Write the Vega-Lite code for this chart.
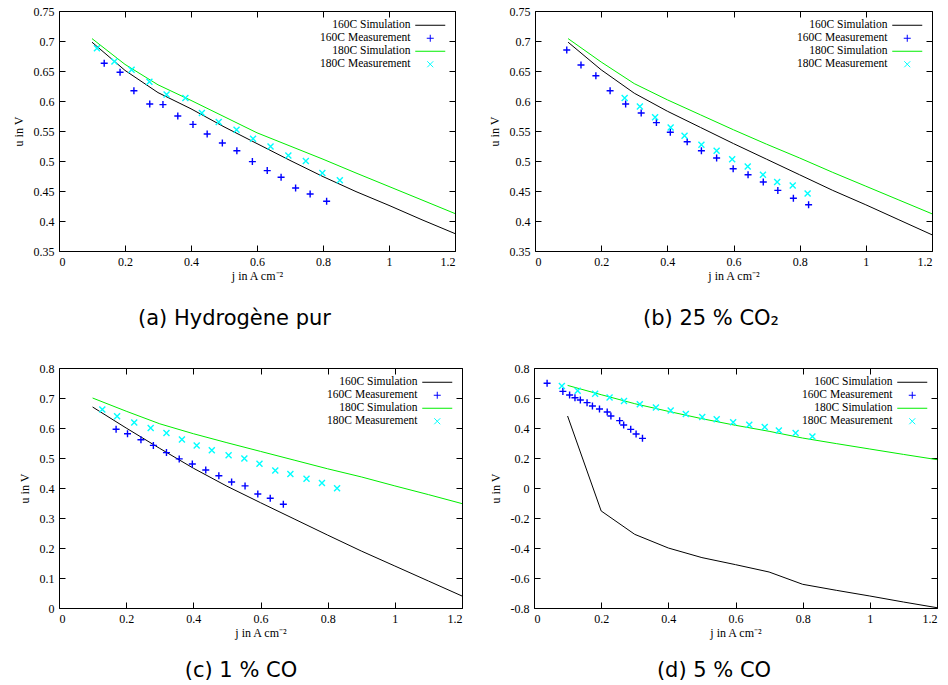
{
"$schema": "https://vega.github.io/schema/vega-lite/v6.json",
"background": "white",
"padding": {"left": 12, "top": 5, "right": 2, "bottom": 0},
"spacing": 33,
"resolve": {"scale": {"color": "independent", "shape": "independent"}, "legend": {"color": "independent", "shape": "independent"}},
"config": {
  "font": "Liberation Serif",
  "view": {"stroke": null},
  "style": {"guide-label": {"font": "Liberation Serif", "fontSize": 12, "fill": "#000"}, "guide-title": {"font": "Liberation Serif", "fontSize": 12, "fontWeight": "normal", "fill": "#000"}},
  "axis": {"labelFont": "Liberation Serif", "labelFontSize": 12, "labelColor": "#000", "titleFont": "Liberation Serif", "titleFontSize": 12, "titleFontWeight": "normal", "titleColor": "#000", "domainColor": "#000", "tickColor": "#000", "tickSize": -6, "labelPadding": 11, "grid": false},
  "axisY": {"titlePadding": 8},
  "axisX": {"titlePadding": 3},
  "title": {"orient": "bottom", "font": "DejaVu Sans", "fontSize": 21, "fontWeight": "normal", "color": "#000", "anchor": "middle", "frame": "bounds", "offset": 22},
  "legend": {"title": null, "orient": "none", "legendY": 8.5, "labelAlign": "right", "labelOffset": -25.5, "labelFont": "Liberation Serif", "labelFontSize": 11.5, "labelColor": "#000", "symbolSize": 25, "rowPadding": 0, "padding": 0, "symbolStrokeWidth": 1}
},
"datasets": {
  "a": [
    {"s":"160C Simulation","j":0.1,"u":0.698},{"s":"160C Simulation","j":0.2,"u":0.651},{"s":"160C Simulation","j":0.3,"u":0.614},{"s":"160C Simulation","j":0.4,"u":0.587},{"s":"160C Simulation","j":0.5,"u":0.557},{"s":"160C Simulation","j":0.6,"u":0.529},{"s":"160C Simulation","j":0.7,"u":0.501},{"s":"160C Simulation","j":0.8,"u":0.474},{"s":"160C Simulation","j":0.9,"u":0.449},{"s":"160C Simulation","j":1.0,"u":0.426},{"s":"160C Simulation","j":1.1,"u":0.402},{"s":"160C Simulation","j":1.2,"u":0.379},
    {"s":"180C Simulation","j":0.1,"u":0.704},{"s":"180C Simulation","j":0.2,"u":0.661},{"s":"180C Simulation","j":0.3,"u":0.627},{"s":"180C Simulation","j":0.4,"u":0.601},{"s":"180C Simulation","j":0.5,"u":0.574},{"s":"180C Simulation","j":0.6,"u":0.547},{"s":"180C Simulation","j":0.7,"u":0.525},{"s":"180C Simulation","j":0.8,"u":0.503},{"s":"180C Simulation","j":0.9,"u":0.48},{"s":"180C Simulation","j":1.0,"u":0.4575},{"s":"180C Simulation","j":1.1,"u":0.435},{"s":"180C Simulation","j":1.2,"u":0.4124},
    {"s":"160C Measurement","j":0.137,"u":0.663},{"s":"160C Measurement","j":0.185,"u":0.648},{"s":"160C Measurement","j":0.227,"u":0.617},{"s":"160C Measurement","j":0.275,"u":0.595},{"s":"160C Measurement","j":0.315,"u":0.594},{"s":"160C Measurement","j":0.36,"u":0.575},{"s":"160C Measurement","j":0.406,"u":0.561},{"s":"160C Measurement","j":0.449,"u":0.545},{"s":"160C Measurement","j":0.495,"u":0.53},{"s":"160C Measurement","j":0.539,"u":0.517},{"s":"160C Measurement","j":0.586,"u":0.499},{"s":"160C Measurement","j":0.631,"u":0.484},{"s":"160C Measurement","j":0.673,"u":0.473},{"s":"160C Measurement","j":0.717,"u":0.455},{"s":"160C Measurement","j":0.761,"u":0.445},{"s":"160C Measurement","j":0.811,"u":0.433},
    {"s":"180C Measurement","j":0.115,"u":0.688},{"s":"180C Measurement","j":0.168,"u":0.666},{"s":"180C Measurement","j":0.22,"u":0.652},{"s":"180C Measurement","j":0.274,"u":0.632},{"s":"180C Measurement","j":0.326,"u":0.611},{"s":"180C Measurement","j":0.383,"u":0.605},{"s":"180C Measurement","j":0.433,"u":0.58},{"s":"180C Measurement","j":0.484,"u":0.565},{"s":"180C Measurement","j":0.538,"u":0.552},{"s":"180C Measurement","j":0.588,"u":0.537},{"s":"180C Measurement","j":0.641,"u":0.524},{"s":"180C Measurement","j":0.695,"u":0.509},{"s":"180C Measurement","j":0.748,"u":0.5},{"s":"180C Measurement","j":0.798,"u":0.48},{"s":"180C Measurement","j":0.851,"u":0.468}
  ],
  "b": [
    {"s":"160C Simulation","j":0.1,"u":0.698},{"s":"160C Simulation","j":0.2,"u":0.652},{"s":"160C Simulation","j":0.3,"u":0.613},{"s":"160C Simulation","j":0.4,"u":0.583},{"s":"160C Simulation","j":0.5,"u":0.556},{"s":"160C Simulation","j":0.6,"u":0.529},{"s":"160C Simulation","j":0.7,"u":0.503},{"s":"160C Simulation","j":0.8,"u":0.477},{"s":"160C Simulation","j":0.9,"u":0.451},{"s":"160C Simulation","j":1.0,"u":0.427},{"s":"160C Simulation","j":1.1,"u":0.402},{"s":"160C Simulation","j":1.2,"u":0.377},
    {"s":"180C Simulation","j":0.1,"u":0.704},{"s":"180C Simulation","j":0.2,"u":0.665},{"s":"180C Simulation","j":0.3,"u":0.629},{"s":"180C Simulation","j":0.4,"u":0.602},{"s":"180C Simulation","j":0.5,"u":0.577},{"s":"180C Simulation","j":0.6,"u":0.552},{"s":"180C Simulation","j":0.7,"u":0.528},{"s":"180C Simulation","j":0.8,"u":0.505},{"s":"180C Simulation","j":0.9,"u":0.481},{"s":"180C Simulation","j":1.0,"u":0.458},{"s":"180C Simulation","j":1.1,"u":0.435},{"s":"180C Simulation","j":1.2,"u":0.412},
    {"s":"160C Measurement","j":0.096,"u":0.685},{"s":"160C Measurement","j":0.139,"u":0.66},{"s":"160C Measurement","j":0.184,"u":0.642},{"s":"160C Measurement","j":0.227,"u":0.617},{"s":"160C Measurement","j":0.274,"u":0.595},{"s":"160C Measurement","j":0.321,"u":0.58},{"s":"160C Measurement","j":0.367,"u":0.564},{"s":"160C Measurement","j":0.409,"u":0.548},{"s":"160C Measurement","j":0.46,"u":0.532},{"s":"160C Measurement","j":0.503,"u":0.517},{"s":"160C Measurement","j":0.549,"u":0.505},{"s":"160C Measurement","j":0.599,"u":0.487},{"s":"160C Measurement","j":0.644,"u":0.477},{"s":"160C Measurement","j":0.69,"u":0.465},{"s":"160C Measurement","j":0.734,"u":0.451},{"s":"160C Measurement","j":0.781,"u":0.438},{"s":"160C Measurement","j":0.827,"u":0.427},
    {"s":"180C Measurement","j":0.271,"u":0.605},{"s":"180C Measurement","j":0.317,"u":0.591},{"s":"180C Measurement","j":0.363,"u":0.573},{"s":"180C Measurement","j":0.41,"u":0.556},{"s":"180C Measurement","j":0.452,"u":0.542},{"s":"180C Measurement","j":0.503,"u":0.527},{"s":"180C Measurement","j":0.549,"u":0.517},{"s":"180C Measurement","j":0.596,"u":0.503},{"s":"180C Measurement","j":0.643,"u":0.491},{"s":"180C Measurement","j":0.689,"u":0.477},{"s":"180C Measurement","j":0.732,"u":0.465},{"s":"180C Measurement","j":0.779,"u":0.459},{"s":"180C Measurement","j":0.824,"u":0.446}
  ],
  "c": [
    {"s":"160C Simulation","j":0.1,"u":0.67},{"s":"160C Simulation","j":0.2,"u":0.6},{"s":"160C Simulation","j":0.3,"u":0.532},{"s":"160C Simulation","j":0.4,"u":0.466},{"s":"160C Simulation","j":0.5,"u":0.406},{"s":"160C Simulation","j":0.6,"u":0.351},{"s":"160C Simulation","j":0.7,"u":0.297},{"s":"160C Simulation","j":0.8,"u":0.243},{"s":"160C Simulation","j":0.9,"u":0.19},{"s":"160C Simulation","j":1.0,"u":0.14},{"s":"160C Simulation","j":1.1,"u":0.09},{"s":"160C Simulation","j":1.2,"u":0.04},
    {"s":"180C Simulation","j":0.1,"u":0.7},{"s":"180C Simulation","j":0.2,"u":0.656},{"s":"180C Simulation","j":0.3,"u":0.614},{"s":"180C Simulation","j":0.4,"u":0.581},{"s":"180C Simulation","j":0.5,"u":0.551},{"s":"180C Simulation","j":0.6,"u":0.522},{"s":"180C Simulation","j":0.7,"u":0.493},{"s":"180C Simulation","j":0.8,"u":0.464},{"s":"180C Simulation","j":0.9,"u":0.437},{"s":"180C Simulation","j":1.0,"u":0.407},{"s":"180C Simulation","j":1.1,"u":0.378},{"s":"180C Simulation","j":1.2,"u":0.348},
    {"s":"160C Measurement","j":0.17,"u":0.596},{"s":"160C Measurement","j":0.204,"u":0.581},{"s":"160C Measurement","j":0.244,"u":0.561},{"s":"160C Measurement","j":0.281,"u":0.542},{"s":"160C Measurement","j":0.32,"u":0.518},{"s":"160C Measurement","j":0.358,"u":0.497},{"s":"160C Measurement","j":0.397,"u":0.48},{"s":"160C Measurement","j":0.437,"u":0.46},{"s":"160C Measurement","j":0.476,"u":0.441},{"s":"160C Measurement","j":0.514,"u":0.42},{"s":"160C Measurement","j":0.554,"u":0.407},{"s":"160C Measurement","j":0.592,"u":0.38},{"s":"160C Measurement","j":0.629,"u":0.366},{"s":"160C Measurement","j":0.668,"u":0.346},
    {"s":"180C Measurement","j":0.129,"u":0.662},{"s":"180C Measurement","j":0.173,"u":0.639},{"s":"180C Measurement","j":0.224,"u":0.618},{"s":"180C Measurement","j":0.273,"u":0.6},{"s":"180C Measurement","j":0.32,"u":0.583},{"s":"180C Measurement","j":0.366,"u":0.562},{"s":"180C Measurement","j":0.41,"u":0.542},{"s":"180C Measurement","j":0.455,"u":0.526},{"s":"180C Measurement","j":0.505,"u":0.509},{"s":"180C Measurement","j":0.552,"u":0.498},{"s":"180C Measurement","j":0.597,"u":0.481},{"s":"180C Measurement","j":0.644,"u":0.458},{"s":"180C Measurement","j":0.689,"u":0.447},{"s":"180C Measurement","j":0.737,"u":0.431},{"s":"180C Measurement","j":0.783,"u":0.417},{"s":"180C Measurement","j":0.828,"u":0.399}
  ],
  "d": [
    {"s":"160C Simulation","j":0.1,"u":0.48},{"s":"160C Simulation","j":0.2,"u":-0.153},{"s":"160C Simulation","j":0.3,"u":-0.309},{"s":"160C Simulation","j":0.4,"u":-0.4},{"s":"160C Simulation","j":0.5,"u":-0.464},{"s":"160C Simulation","j":0.6,"u":-0.511},{"s":"160C Simulation","j":0.7,"u":-0.56},{"s":"160C Simulation","j":0.8,"u":-0.642},{"s":"160C Simulation","j":0.9,"u":-0.682},{"s":"160C Simulation","j":1.0,"u":-0.72},{"s":"160C Simulation","j":1.1,"u":-0.76},{"s":"160C Simulation","j":1.2,"u":-0.798},
    {"s":"180C Simulation","j":0.1,"u":0.684},{"s":"180C Simulation","j":0.2,"u":0.622},{"s":"180C Simulation","j":0.3,"u":0.562},{"s":"180C Simulation","j":0.4,"u":0.511},{"s":"180C Simulation","j":0.5,"u":0.462},{"s":"180C Simulation","j":0.6,"u":0.418},{"s":"180C Simulation","j":0.7,"u":0.378},{"s":"180C Simulation","j":0.8,"u":0.333},{"s":"180C Simulation","j":0.9,"u":0.296},{"s":"180C Simulation","j":1.0,"u":0.26},{"s":"180C Simulation","j":1.1,"u":0.224},{"s":"180C Simulation","j":1.2,"u":0.189},
    {"s":"160C Measurement","j":0.039,"u":0.698},{"s":"160C Measurement","j":0.086,"u":0.644},{"s":"160C Measurement","j":0.106,"u":0.62},{"s":"160C Measurement","j":0.122,"u":0.602},{"s":"160C Measurement","j":0.138,"u":0.587},{"s":"160C Measurement","j":0.158,"u":0.569},{"s":"160C Measurement","j":0.174,"u":0.547},{"s":"160C Measurement","j":0.195,"u":0.527},{"s":"160C Measurement","j":0.218,"u":0.507},{"s":"160C Measurement","j":0.229,"u":0.48},{"s":"160C Measurement","j":0.255,"u":0.449},{"s":"160C Measurement","j":0.267,"u":0.42},{"s":"160C Measurement","j":0.288,"u":0.391},{"s":"160C Measurement","j":0.304,"u":0.36},{"s":"160C Measurement","j":0.323,"u":0.331},
    {"s":"180C Measurement","j":0.083,"u":0.68},{"s":"180C Measurement","j":0.13,"u":0.649},{"s":"180C Measurement","j":0.182,"u":0.629},{"s":"180C Measurement","j":0.225,"u":0.604},{"s":"180C Measurement","j":0.268,"u":0.58},{"s":"180C Measurement","j":0.315,"u":0.558},{"s":"180C Measurement","j":0.363,"u":0.536},{"s":"180C Measurement","j":0.407,"u":0.516},{"s":"180C Measurement","j":0.452,"u":0.493},{"s":"180C Measurement","j":0.501,"u":0.473},{"s":"180C Measurement","j":0.544,"u":0.458},{"s":"180C Measurement","j":0.593,"u":0.438},{"s":"180C Measurement","j":0.641,"u":0.422},{"s":"180C Measurement","j":0.687,"u":0.407},{"s":"180C Measurement","j":0.729,"u":0.384},{"s":"180C Measurement","j":0.779,"u":0.367},{"s":"180C Measurement","j":0.829,"u":0.344}
  ]
},
"vconcat": [
 {"spacing": 31, "resolve": {"scale": {"color": "independent", "shape": "independent"}, "legend": {"color": "independent", "shape": "independent"}}, "hconcat": [
  {"width": 396, "height": 240, "title": {"text": "(a) Hydrogène pur", "offset": 27}, "data": {"name": "a"},
   "resolve": {"axis": {"x": "independent", "y": "independent"}},
   "layer": [
    {"transform": [{"filter": "indexof(datum.s, 'Simulation') >= 0"}],
     "mark": {"type": "line", "strokeWidth": 1},
     "encoding": {
      "x": {"field": "j", "type": "quantitative", "scale": {"domain": [0, 1.2], "nice": false}, "axis": {"orient": "bottom", "values": [0, 0.2, 0.4, 0.6, 0.8, 1, 1.2], "format": "~g", "title": "j in A cm⁻²", "labelFont": "Liberation Serif", "titleFont": "Liberation Serif"}},
      "y": {"field": "u", "type": "quantitative", "scale": {"domain": [0.35, 0.75], "nice": false, "zero": false}, "axis": {"orient": "left", "values": [0.35, 0.4, 0.45, 0.5, 0.55, 0.6, 0.65, 0.7, 0.75], "format": "~g", "title": "u in V", "labelFont": "Liberation Serif", "titleFont": "Liberation Serif"}},
      "color": {"field": "s", "type": "nominal", "scale": {"domain": ["160C Simulation", "160C Measurement", "180C Simulation", "180C Measurement"], "range": ["#000000", "#0000ff", "#00ee00", "#00ffff"]}, "legend": {"legendX": 365.5}}
     }},
    {"transform": [{"filter": "indexof(datum.s, 'Measurement') >= 0"}],
     "mark": {"type": "point", "filled": false, "size": 25, "strokeWidth": 1.4, "opacity": 1},
     "encoding": {
      "x": {"field": "j", "type": "quantitative", "axis": {"orient": "top", "values": [0, 0.2, 0.4, 0.6, 0.8, 1, 1.2], "labels": false, "title": null}},
      "y": {"field": "u", "type": "quantitative", "axis": {"orient": "right", "values": [0.35, 0.4, 0.45, 0.5, 0.55, 0.6, 0.65, 0.7, 0.75], "labels": false, "title": null}},
      "color": {"field": "s", "type": "nominal", "legend": {"legendX": 365.5}},
      "shape": {"field": "s", "type": "nominal", "scale": {"domain": ["160C Simulation", "160C Measurement", "180C Simulation", "180C Measurement"], "range": ["M-6,0H6", "M-1.4,0H1.4M0,-1.4V1.4", "M-6,0H6", "M-1.2,-1.2L1.2,1.2M-1.2,1.2L1.2,-1.2"]}, "legend": {"legendX": 365.5}}
     }}
   ]},
  {"width": 397, "height": 240, "title": {"text": "(b) 25 % CO₂", "offset": 27}, "data": {"name": "b"},
   "resolve": {"axis": {"x": "independent", "y": "independent"}},
   "layer": [
    {"transform": [{"filter": "indexof(datum.s, 'Simulation') >= 0"}],
     "mark": {"type": "line", "strokeWidth": 1},
     "encoding": {
      "x": {"field": "j", "type": "quantitative", "scale": {"domain": [0, 1.2], "nice": false}, "axis": {"orient": "bottom", "values": [0, 0.2, 0.4, 0.6, 0.8, 1, 1.2], "format": "~g", "title": "j in A cm⁻²", "labelFont": "Liberation Serif", "titleFont": "Liberation Serif"}},
      "y": {"field": "u", "type": "quantitative", "scale": {"domain": [0.35, 0.75], "nice": false, "zero": false}, "axis": {"orient": "left", "values": [0.35, 0.4, 0.45, 0.5, 0.55, 0.6, 0.65, 0.7, 0.75], "format": "~g", "title": "u in V", "labelFont": "Liberation Serif", "titleFont": "Liberation Serif"}},
      "color": {"field": "s", "type": "nominal", "scale": {"domain": ["160C Simulation", "160C Measurement", "180C Simulation", "180C Measurement"], "range": ["#000000", "#0000ff", "#00ee00", "#00ffff"]}, "legend": {"legendX": 366.5}}
     }},
    {"transform": [{"filter": "indexof(datum.s, 'Measurement') >= 0"}],
     "mark": {"type": "point", "filled": false, "size": 25, "strokeWidth": 1.4, "opacity": 1},
     "encoding": {
      "x": {"field": "j", "type": "quantitative", "axis": {"orient": "top", "values": [0, 0.2, 0.4, 0.6, 0.8, 1, 1.2], "labels": false, "title": null}},
      "y": {"field": "u", "type": "quantitative", "axis": {"orient": "right", "values": [0.35, 0.4, 0.45, 0.5, 0.55, 0.6, 0.65, 0.7, 0.75], "labels": false, "title": null}},
      "color": {"field": "s", "type": "nominal", "legend": {"legendX": 366.5}},
      "shape": {"field": "s", "type": "nominal", "scale": {"domain": ["160C Simulation", "160C Measurement", "180C Simulation", "180C Measurement"], "range": ["M-6,0H6", "M-1.4,0H1.4M0,-1.4V1.4", "M-6,0H6", "M-1.2,-1.2L1.2,1.2M-1.2,1.2L1.2,-1.2"]}, "legend": {"legendX": 366.5}}
     }}
   ]}
 ]},
 {"spacing": 25, "resolve": {"scale": {"color": "independent", "shape": "independent"}, "legend": {"color": "independent", "shape": "independent"}}, "hconcat": [
  {"width": 403, "height": 240, "title": {"text": "(c) 1 % CO", "offset": 22}, "data": {"name": "c"},
   "resolve": {"axis": {"x": "independent", "y": "independent"}},
   "layer": [
    {"transform": [{"filter": "indexof(datum.s, 'Simulation') >= 0"}],
     "mark": {"type": "line", "strokeWidth": 1},
     "encoding": {
      "x": {"field": "j", "type": "quantitative", "scale": {"domain": [0, 1.2], "nice": false}, "axis": {"orient": "bottom", "values": [0, 0.2, 0.4, 0.6, 0.8, 1, 1.2], "format": "~g", "title": "j in A cm⁻²", "labelFont": "Liberation Serif", "titleFont": "Liberation Serif"}},
      "y": {"field": "u", "type": "quantitative", "scale": {"domain": [0, 0.8], "nice": false}, "axis": {"orient": "left", "values": [0, 0.1, 0.2, 0.3, 0.4, 0.5, 0.6, 0.7, 0.8], "format": "~g", "title": "u in V", "labelFont": "Liberation Serif", "titleFont": "Liberation Serif"}},
      "color": {"field": "s", "type": "nominal", "scale": {"domain": ["160C Simulation", "160C Measurement", "180C Simulation", "180C Measurement"], "range": ["#000000", "#0000ff", "#00ee00", "#00ffff"]}, "legend": {"legendX": 372.5}}
     }},
    {"transform": [{"filter": "indexof(datum.s, 'Measurement') >= 0"}],
     "mark": {"type": "point", "filled": false, "size": 25, "strokeWidth": 1.4, "opacity": 1},
     "encoding": {
      "x": {"field": "j", "type": "quantitative", "axis": {"orient": "top", "values": [0, 0.2, 0.4, 0.6, 0.8, 1, 1.2], "labels": false, "title": null}},
      "y": {"field": "u", "type": "quantitative", "axis": {"orient": "right", "values": [0, 0.1, 0.2, 0.3, 0.4, 0.5, 0.6, 0.7, 0.8], "labels": false, "title": null}},
      "color": {"field": "s", "type": "nominal", "legend": {"legendX": 372.5}},
      "shape": {"field": "s", "type": "nominal", "scale": {"domain": ["160C Simulation", "160C Measurement", "180C Simulation", "180C Measurement"], "range": ["M-6,0H6", "M-1.4,0H1.4M0,-1.4V1.4", "M-6,0H6", "M-1.2,-1.2L1.2,1.2M-1.2,1.2L1.2,-1.2"]}, "legend": {"legendX": 372.5}}
     }}
   ]},
  {"width": 403, "height": 240, "title": {"text": "(d) 5 % CO", "offset": 22}, "data": {"name": "d"},
   "resolve": {"axis": {"x": "independent", "y": "independent"}},
   "layer": [
    {"transform": [{"filter": "indexof(datum.s, 'Simulation') >= 0"}],
     "mark": {"type": "line", "strokeWidth": 1},
     "encoding": {
      "x": {"field": "j", "type": "quantitative", "scale": {"domain": [0, 1.2], "nice": false}, "axis": {"orient": "bottom", "values": [0, 0.2, 0.4, 0.6, 0.8, 1, 1.2], "format": "~g", "title": "j in A cm⁻²", "labelFont": "Liberation Serif", "titleFont": "Liberation Serif"}},
      "y": {"field": "u", "type": "quantitative", "scale": {"domain": [-0.8, 0.8], "nice": false}, "axis": {"orient": "left", "values": [-0.8, -0.6, -0.4, -0.2, 0, 0.2, 0.4, 0.6, 0.8], "format": "~g", "labelExpr": "replace(datum.label, '\u2212', '-')", "title": "u in V", "labelFont": "Liberation Serif", "titleFont": "Liberation Serif"}},
      "color": {"field": "s", "type": "nominal", "scale": {"domain": ["160C Simulation", "160C Measurement", "180C Simulation", "180C Measurement"], "range": ["#000000", "#0000ff", "#00ee00", "#00ffff"]}, "legend": {"legendX": 372.5}}
     }},
    {"transform": [{"filter": "indexof(datum.s, 'Measurement') >= 0"}],
     "mark": {"type": "point", "filled": false, "size": 25, "strokeWidth": 1.4, "opacity": 1},
     "encoding": {
      "x": {"field": "j", "type": "quantitative", "axis": {"orient": "top", "values": [0, 0.2, 0.4, 0.6, 0.8, 1, 1.2], "labels": false, "title": null}},
      "y": {"field": "u", "type": "quantitative", "axis": {"orient": "right", "values": [-0.8, -0.6, -0.4, -0.2, 0, 0.2, 0.4, 0.6, 0.8], "labels": false, "title": null}},
      "color": {"field": "s", "type": "nominal", "legend": {"legendX": 372.5}},
      "shape": {"field": "s", "type": "nominal", "scale": {"domain": ["160C Simulation", "160C Measurement", "180C Simulation", "180C Measurement"], "range": ["M-6,0H6", "M-1.4,0H1.4M0,-1.4V1.4", "M-6,0H6", "M-1.2,-1.2L1.2,1.2M-1.2,1.2L1.2,-1.2"]}, "legend": {"legendX": 372.5}}
     }}
   ]}
 ]}
]
}
